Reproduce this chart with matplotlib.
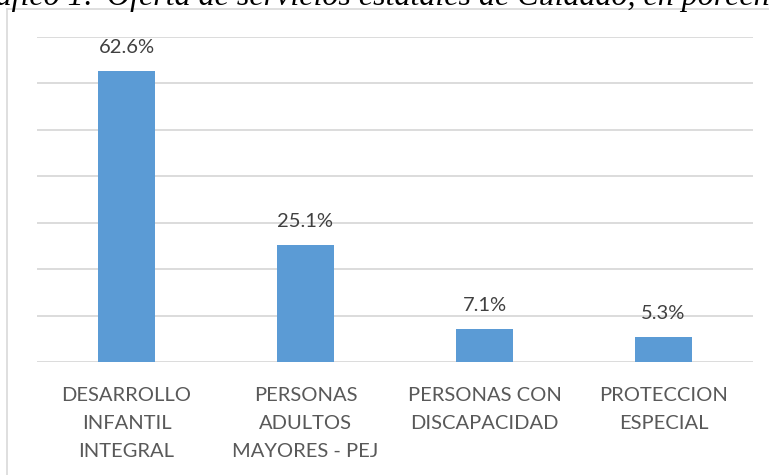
import matplotlib.pyplot as plt
from matplotlib.lines import Line2D

# data
categories = ["DESARROLLO\nINFANTIL\nINTEGRAL", "PERSONAS\nADULTOS\nMAYORES - PEJ",
              "PERSONAS CON\nDISCAPACIDAD", "PROTECCION\nESPECIAL"]
values = [62.6, 25.1, 7.1, 5.3]
title_num = "Gráfico 1:"
title = "Oferta de servicios estatales de Cuidado, en porcentaje"

W, H = 769, 475
fig = plt.figure(figsize=(W / 100, H / 100), dpi=100)
ax = fig.add_axes([37 / W, (H - 362) / H, 716 / W, 325 / H])

x = range(len(values))
ax.bar(x, values, width=0.32, color="#5b9bd5", zorder=2)
for xi, v in zip(x, values):
    ax.annotate(f"{v}%", (xi, v), xytext=(0, 11), textcoords="offset points",
                ha="center", va="bottom", fontsize=14.5, family="Lato", color="#404040")

ax.set_xlim(-0.5, 3.5)
ax.set_ylim(0, 70)
ax.set_yticks(range(0, 71, 10))
ax.yaxis.grid(True, color="#d9d9d9", lw=1.3, zorder=0)
ax.tick_params(axis="y", left=False, labelleft=False)
ax.set_xticks(list(x))
ax.set_xticklabels(categories, fontsize=14.5, family="Lato", color="#595959", linespacing=1.8)
ax.tick_params(axis="x", length=0, pad=18)
for s in ax.spines.values():
    s.set_visible(False)

# chart frame (left and top edges visible)
fig.add_artist(Line2D([7 / W, 7 / W], [0, 1 - 9 / H], color="#d9d9d9", lw=1.2))
fig.add_artist(Line2D([7 / W, 1], [1 - 9 / H, 1 - 9 / H], color="#d9d9d9", lw=1.2))

# title, cut off at the top and sides as in the reference
ty = 1 - 5 / H
fig.text(-40 / W, ty, title_num, ha="left", va="baseline", fontsize=23,
         family="Liberation Serif", style="italic", color="black")
fig.text(107 / W, ty, title, ha="left", va="baseline", fontsize=23,
         family="Liberation Serif", style="italic", color="black")

fig.savefig("out.png", dpi=100)
